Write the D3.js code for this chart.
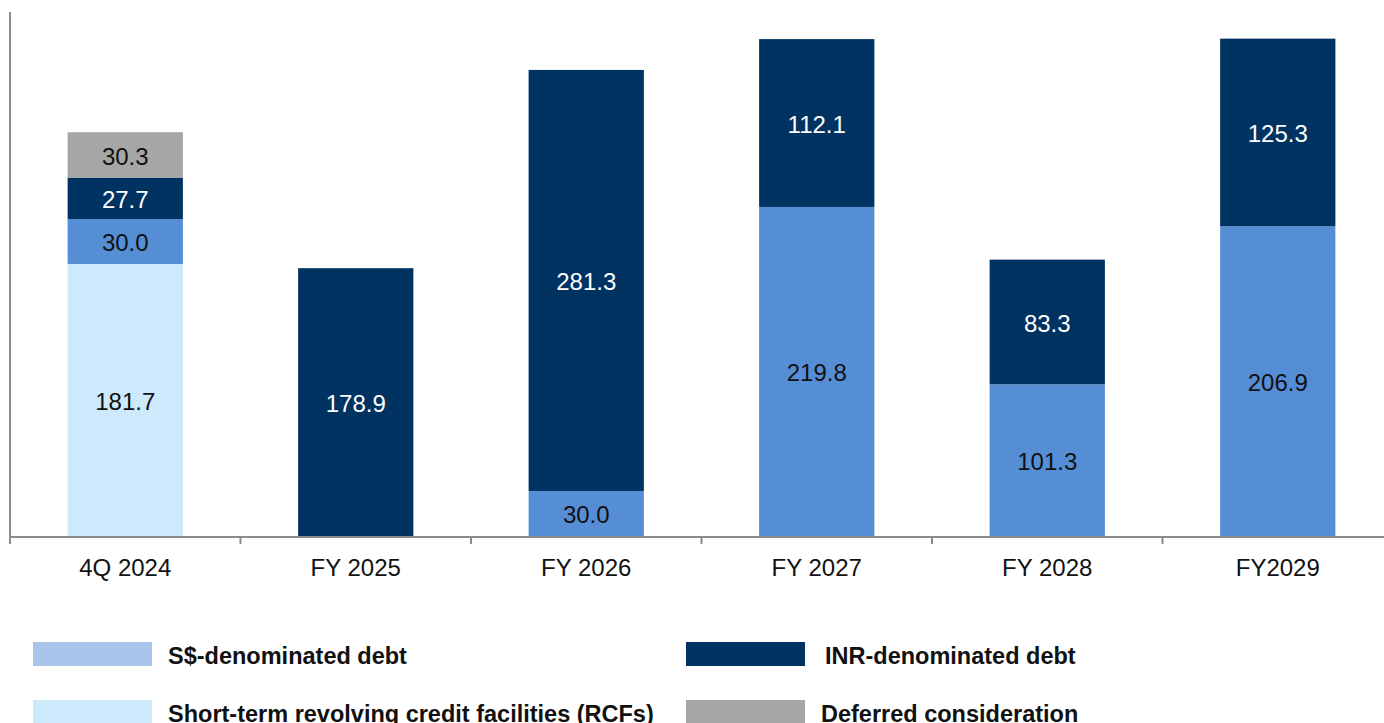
<!DOCTYPE html>
<html>
<head>
<meta charset="utf-8">
<script src="https://cdn.jsdelivr.net/npm/d3@7"></script>
<style>
  body { margin: 0; background: #fff; }
  svg { display: block; font-family: "Liberation Sans", Arial, sans-serif; }
</style>
</head>
<body>
<svg width="1384" height="723"></svg>
<script>
// chart data (S$ million)
const categories = ["4Q 2024", "FY 2025", "FY 2026", "FY 2027", "FY 2028", "FY2029"];
const rcf = [181.7, 0, 0, 0, 0, 0];
const sgdDebt = [30.0, 0, 30.0, 219.8, 101.3, 206.9];
const inrDebt = [27.7, 178.9, 281.3, 112.1, 83.3, 125.3];
const deferred = [30.3, 0, 0, 0, 0, 0];

const seriesKeys = ["rcf", "sgd", "inr", "def"];
const seriesColor = { rcf: "#cdeafc", sgd: "#558ed5", inr: "#003262", def: "#a6a6a6" };
const labelColor = { rcf: "#111", sgd: "#111", inr: "#fff", def: "#111" };

const rows = categories.map((c, i) => ({
  cat: c, rcf: rcf[i], sgd: sgdDebt[i], inr: inrDebt[i], def: deferred[i]
}));

const svg = d3.select("svg");

const x = d3.scaleBand()
  .domain(categories)
  .range([10, 1393])
  .paddingInner(0.5)
  .paddingOuter(0.25);

const y = d3.scaleLinear()
  .domain([0, 350])
  .range([536, 12]);

const stack = d3.stack().keys(seriesKeys)(rows);

// bars
const layers = svg.append("g").selectAll("g")
  .data(stack)
  .join("g")
  .attr("fill", d => seriesColor[d.key]);

layers.selectAll("rect")
  .data(d => d.map(p => Object.assign(p, { key: d.key })))
  .join("rect")
  .attr("x", d => x(d.data.cat))
  .attr("width", x.bandwidth())
  .attr("y", d => y(d[1]))
  .attr("height", d => y(d[0]) - y(d[1]));

// value labels
layers.selectAll("text")
  .data(d => d.filter(p => p[1] - p[0] > 0))
  .join("text")
  .attr("x", d => x(d.data.cat) + x.bandwidth() / 2)
  .attr("y", d => (y(d[0]) + y(d[1])) / 2 + 1)
  .attr("dy", "0.36em")
  .attr("text-anchor", "middle")
  .attr("font-size", 24)
  .attr("fill", d => labelColor[d.key])
  .text(d => (d[1] - d[0]).toFixed(1));

// axes
const axisColor = "#8c8c8c";
svg.append("line")
  .attr("x1", 10).attr("x2", 10)
  .attr("y1", 12).attr("y2", 537)
  .attr("stroke", axisColor).attr("stroke-width", 2);

svg.append("line")
  .attr("x1", 9).attr("x2", 1384)
  .attr("y1", 537).attr("y2", 537)
  .attr("stroke", axisColor).attr("stroke-width", 2);

svg.append("g").selectAll("line")
  .data(categories)
  .join("line")
  .attr("x1", d => x(d) - x.bandwidth() / 2)
  .attr("x2", d => x(d) - x.bandwidth() / 2)
  .attr("y1", 537).attr("y2", 544)
  .attr("stroke", axisColor).attr("stroke-width", 2);

svg.append("g").selectAll("text")
  .data(categories)
  .join("text")
  .attr("x", d => x(d) + x.bandwidth() / 2)
  .attr("y", 576)
  .attr("text-anchor", "middle")
  .attr("font-size", 24)
  .attr("fill", "#111")
  .text(d => d);

// legend
const legendItems = [
  { label: "S$-denominated debt", color: "#a9c5eb", x: 33, y: 642, tx: 168 },
  { label: "INR-denominated debt", color: "#003262", x: 686, y: 642, tx: 825 },
  { label: "Short-term revolving credit facilities (RCFs)", color: "#cdeafc", x: 33, y: 700, tx: 168 },
  { label: "Deferred consideration", color: "#a6a6a6", x: 686, y: 700, tx: 821 }
];

const lg = svg.append("g").selectAll("g")
  .data(legendItems)
  .join("g")
  .attr("transform", d => `translate(${d.x},${d.y})`);

lg.append("rect")
  .attr("width", 119).attr("height", 24)
  .attr("fill", d => d.color);

lg.append("text")
  .attr("x", d => d.tx - d.x)
  .attr("y", 22)
  .attr("font-size", 23.5)
  .attr("font-weight", "bold")
  .attr("fill", "#111")
  .text(d => d.label);
</script>
</body>
</html>
